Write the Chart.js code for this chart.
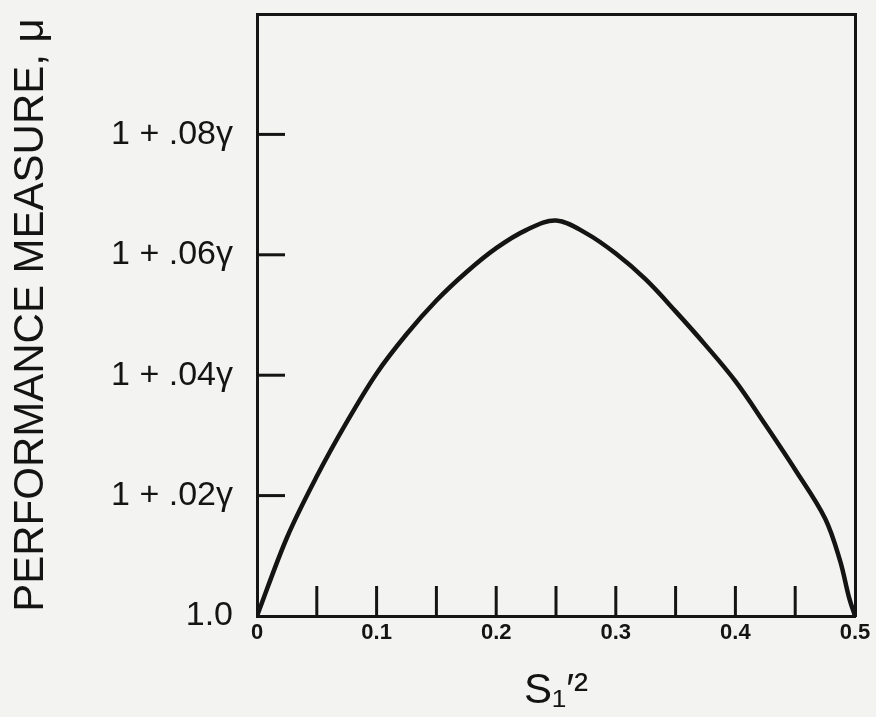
<!DOCTYPE html>
<html>
<head>
<meta charset="utf-8">
<script src="https://cdn.jsdelivr.net/npm/chart.js@4/dist/chart.umd.min.js"></script>
<style>
  html, body { margin: 0; padding: 0; background: #f3f3f1; }
  #wrap { width: 876px; height: 717px; }
</style>
</head>
<body>
<div id="wrap"><canvas id="c" width="876" height="717"></canvas></div>
<script>
// ---- data ----
const xValues = [0, 0.025, 0.05, 0.075, 0.1, 0.125, 0.15, 0.175, 0.2, 0.225, 0.25, 0.275, 0.3, 0.325, 0.35, 0.375, 0.4, 0.425, 0.45, 0.475, 0.4875, 0.495, 0.5];
// performance measure, as offset above 1 in units of gamma
const yOffsets = [0, 0.0130, 0.0232, 0.0322, 0.0403, 0.0468, 0.0524, 0.0571, 0.0611, 0.0641, 0.0657, 0.0636, 0.0602, 0.0559, 0.0506, 0.0450, 0.0390, 0.0318, 0.0243, 0.0162, 0.0092, 0.0031, 0];
const yTickValues = [0, 0.02, 0.04, 0.06, 0.08];
const yTickLabels = ['1.0', '1 + .02γ', '1 + .04γ', '1 + .06γ', '1 + .08γ'];
const xTickValues = [0, 0.1, 0.2, 0.3, 0.4, 0.5];
const xTickLabels = ['0', '0.1', '0.2', '0.3', '0.4', '0.5'];
const xTitle = 'S₁′²';
const yTitle = 'PERFORMANCE MEASURE, μ';

const points = xValues.map((x, i) => ({ x: x, y: yOffsets[i] }));
const INK = '#141414';

const innerTicks = {
  id: 'innerTicks',
  afterDraw(chart) {
    const { ctx, chartArea, scales } = chart;
    ctx.save();
    ctx.strokeStyle = INK;
    ctx.lineWidth = 3;
    ctx.lineCap = 'butt';
    scales.y.ticks.forEach(t => {
      if (t.value <= 0 || t.value >= 0.1 - 1e-9) return;
      const py = scales.y.getPixelForValue(t.value);
      ctx.beginPath();
      ctx.moveTo(chartArea.left, py);
      ctx.lineTo(chartArea.left + 28, py);
      ctx.stroke();
    });
    scales.x.ticks.forEach(t => {
      if (t.value <= 1e-9 || t.value >= 0.5 - 1e-9) return;
      const px = scales.x.getPixelForValue(t.value);
      ctx.beginPath();
      ctx.moveTo(px, chartArea.bottom);
      ctx.lineTo(px, chartArea.bottom - 30);
      ctx.stroke();
    });
    ctx.restore();
  }
};

function matchLabel(values, labels, v) {
  for (let i = 0; i < values.length; i++) {
    if (Math.abs(values[i] - v) < 1e-9) return labels[i];
  }
  return '';
}

function zeroPad(s) { s.paddingTop = 0; s.paddingBottom = 0; s.paddingLeft = 0; s.paddingRight = 0; }

new Chart(document.getElementById('c'), {
  type: 'line',
  data: {
    datasets: [{
      data: points,
      borderColor: INK,
      borderWidth: 4.5,
      pointRadius: 0,
      fill: false,
      tension: 0.35
    }]
  },
  options: {
    responsive: false,
    animation: false,
    layout: { padding: { left: 0, right: 21, top: 14, bottom: 0 } },
    plugins: { legend: { display: false }, tooltip: { enabled: false } },
    scales: {
      x: {
        type: 'linear',
        position: 'bottom',
        min: 0, max: 0.5,
        afterBuildTicks: s => { s.ticks = [0,0.05,0.1,0.15,0.2,0.25,0.3,0.35,0.4,0.45,0.5].map(v => ({ value: v })); },
        ticks: {
          autoSkip: false,
          maxRotation: 0,
          padding: 4,
          color: INK,
          font: { family: 'Liberation Sans', size: 22, weight: 'bold' },
          callback: v => matchLabel(xTickValues, xTickLabels, v)
        },
        grid: { display: true, drawOnChartArea: false, drawTicks: false, color: 'rgba(0,0,0,0)' },
        border: { display: true, color: INK, width: 3 },
        title: {
          display: true,
          text: xTitle,
          color: INK,
          font: { family: 'Liberation Sans', size: 42 },
          padding: { top: 0, bottom: 0 }
        },
        afterFit: s => { s.height = 101; zeroPad(s); }
      },
      x2: {
        type: 'linear',
        position: 'top',
        min: 0, max: 0.5,
        ticks: { display: false },
        grid: { display: false, drawTicks: false },
        border: { display: true, color: INK, width: 3 },
        afterFit: s => { s.height = 0; zeroPad(s); }
      },
      y: {
        type: 'linear',
        position: 'left',
        min: 0, max: 0.1,
        afterBuildTicks: s => { s.ticks = [0,0.02,0.04,0.06,0.08,0.1].map(v => ({ value: v })); },
        ticks: {
          autoSkip: false,
          padding: 24,
          color: INK,
          font: { family: 'Liberation Sans', size: 34 },
          callback: v => matchLabel(yTickValues, yTickLabels, v)
        },
        grid: { display: true, drawOnChartArea: false, drawTicks: false, color: 'rgba(0,0,0,0)' },
        border: { display: true, color: INK, width: 3 },
        title: {
          display: true,
          text: yTitle,
          color: INK,
          font: { family: 'Liberation Sans', size: 42 },
          padding: { top: 6, bottom: 0 }
        },
        afterFit: s => { s.width = 257; zeroPad(s); }
      },
      y2: {
        type: 'linear',
        position: 'right',
        min: 0, max: 0.1,
        ticks: { display: false },
        grid: { display: false, drawTicks: false },
        border: { display: true, color: INK, width: 3 },
        afterFit: s => { s.width = 0; zeroPad(s); }
      }
    }
  },
  plugins: [innerTicks]
});
</script>
</body>
</html>
